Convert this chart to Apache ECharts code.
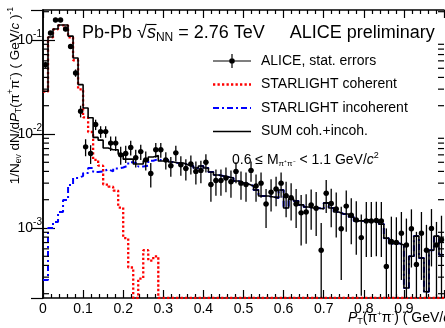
<!DOCTYPE html>
<html><head><meta charset="utf-8">
<script src="https://cdn.jsdelivr.net/npm/echarts@6/dist/echarts.min.js"></script>
<style>html,body{margin:0;padding:0;background:#fff}#c{width:445px;height:328px}</style>
</head><body><div id="c"></div><script>
const binWidth = 0.0125;
const pTLow = [0,0.0125,0.025,0.0375,0.05,0.0625,0.075,0.0875,0.1,0.1125,0.125,0.1375,0.15,0.1625,0.175,0.1875,0.2,0.2125,0.225,0.2375,0.25,0.2625,0.275,0.2875,0.3,0.3125,0.325,0.3375,0.35,0.3625,0.375,0.3875,0.4,0.4125,0.425,0.4375,0.45,0.4625,0.475,0.4875,0.5,0.5125,0.525,0.5375,0.55,0.5625,0.575,0.5875,0.6,0.6125,0.625,0.6375,0.65,0.6625,0.675,0.6875,0.7,0.7125,0.725,0.7375,0.75,0.7625,0.775,0.7875,0.8,0.8125,0.825,0.8375,0.85,0.8625,0.875,0.8875,0.9,0.9125,0.925,0.9375,0.95,0.9625,0.975,0.9875];
const dataValues = [0.0546,0.1187,0.163,0.163,0.131,0.0853,0.0446,0.0175,0.0073,0.0062,
0.0126,0.0106,0.0106,0.0080,0.0080,0.0060,0.0062,0.0072,0.0056,0.0065,
0.0053,0.0038,0.0068,0.0068,0.0053,0.0046,0.0063,0.0047,0.0043,0.0048,
0.0040,0.0041,0.0050,0.0029,0.0032,0.0032,0.0034,0.0031,0.0040,0.0030,
0.0029,0.0041,0.0028,0.0030,0.0018,0.0024,0.0026,0.0030,0.0022,0.0021,
0.0018,0.00145,0.00148,0.00176,0.00162,0.00058,0.00234,0.00182,0.00159,0.00098,
0.00171,0.00137,0.00122,0.00079,0.00119,0.00119,0.0012,0.00119,0.00039,0.00072,
0.0007,0.00088,0.00066,0.00098,0.00041,0.00088,0.00058,0.00099,0.00066,0.00075];
const dataErrors = [0.004,0.006,0.008,0.008,0.007,0.005,0.004,0.0025,0.0015,0.0014,
0.0016,0.0015,0.0015,0.0014,0.0014,0.0013,0.0013,0.0013,0.0012,0.0012,
0.0012,0.0011,0.0012,0.0012,0.0011,0.0011,0.0012,0.0011,0.0011,0.0011,
0.0011,0.0011,0.0011,0.0010,0.0010,0.0010,0.0010,0.0010,0.0010,0.0010,
0.0010,0.0010,0.0009,0.0009,0.0008,0.0009,0.0009,0.0009,0.0009,0.0009,
0.0008,0.0008,0.0008,0.0008,0.0008,0.00055,0.0009,0.0008,0.0008,0.0007,
0.0008,0.0007,0.0007,0.0006,0.0007,0.0007,0.0007,0.0007,0.0006,0.0006,
0.0006,0.0006,0.0006,0.0006,0.0005,0.0006,0.0005,0.0006,0.0005,0.0006];
const coherent = [0.0282,0.1066,0.1298,0.143,0.1425,0.107,0.0609,0.0299,0.015,0.0105,
0.0053,0.0046,0.0029,0.00275,0.0025,0.00165,0.00078,0.00038,0,0.00029,
0.00058,0.00045,0.0005,0,0,0,0,0,0,0,
0,0,0,0,0,0,0,0,0,0,
0,0,0,0,0,0,0,0,0,0,
0,0,0,0,0,0,0,0,0,0,
0,0,0,0,0,0,0,0,0,0,
0,0,0,0,0,0,0,0,0,0];
const incoherent = [0.00028,0.001,0.00116,0.00148,0.00199,0.00287,0.0034,0.00357,0.00385,0.00435,
0.00394,0.004,0.0042,0.004,0.0043,0.0044,0.0046,0.005,0.0048,0.0045,
0.0046,0.0052,0.0054,0.00516,0.00529,0.00503,0.00491,0.00491,0.00468,0.00457,
0.00435,0.00457,0.00435,0.00394,0.00366,0.00358,0.00349,0.0034,0.00316,0.00301,
0.00294,0.0028,0.00254,0.00219,0.00219,0.00214,0.00209,0.00254,0.00163,0.00204,
0.00194,0.00176,0.00167,0.00163,0.00163,0.00159,0.00185,0.00163,0.00148,0.00141,
0.00141,0.00131,0.00119,0.00119,0.00122,0.00119,0.00116,0.0011,0.00078,0.00068,
0.00069,0.00066,0.00023,0.0005,0.00082,0.00048,0.00021,0.00058,0.00082,0.00052];
const sumCohIncoh = [0.0285,0.1076,0.131,0.1445,0.1445,0.11,0.0643,0.0335,0.0189,0.0149,
0.0092,0.0086,0.0071,0.0068,0.0068,0.0061,0.0054,0.0054,0.0048,0.0048,
0.0052,0.0057,0.0059,0.00516,0.00529,0.00503,0.00491,0.00491,0.00468,0.00457,
0.00435,0.00457,0.00435,0.00394,0.00366,0.00358,0.00349,0.0034,0.00316,0.00301,
0.00294,0.0028,0.00254,0.00219,0.00219,0.00214,0.00209,0.00254,0.00163,0.00204,
0.00194,0.00176,0.00167,0.00163,0.00163,0.00159,0.00185,0.00163,0.00148,0.00141,
0.00141,0.00131,0.00119,0.00119,0.00122,0.00119,0.00116,0.0011,0.00078,0.00068,
0.00069,0.00066,0.00023,0.0005,0.00082,0.00048,0.00021,0.00058,0.00082,0.00052];
const xTickLabels = ['0','0.1','0.2','0.3','0.4','0.5','0.6','0.7','0.8','0.9'];
const yMinorTicks = [2e-4,3e-4,4e-4,5e-4,6e-4,7e-4,8e-4,9e-4,2e-3,3e-3,4e-3,5e-3,6e-3,7e-3,8e-3,9e-3,2e-2,3e-2,4e-2,5e-2,6e-2,7e-2,8e-2,9e-2,2e-1];
const legendNames = ['ALICE, stat. errors','STARLIGHT coherent','STARLIGHT incoherent','SUM coh.+incoh.'];

const yMin = 1.8e-4, yMax = 0.2085;
const FF = '"Liberation Sans", Arial, Helvetica, sans-serif';

function histData(vals) {
  const out = vals.map((v, i) => [pTLow[i], v > 0 ? v : yMin]);
  const last = vals[vals.length - 1];
  out.push([pTLow[pTLow.length - 1] + binWidth, last > 0 ? last : yMin]);
  return out;
}
// legend icon paths (dash patterns as filled rectangles)
function dashIcon(pattern, total, h) {
  let d = '', x = 0, k = 0;
  while (x < total - 0.01) {
    const len = Math.min(pattern[k % pattern.length], total - x);
    if (k % 2 === 0) d += 'M' + x.toFixed(2) + ',0H' + (x + len).toFixed(2) + 'V' + h + 'H' + x.toFixed(2) + 'Z ';
    x += pattern[k % pattern.length]; k++;
  }
  return 'path://' + d;
}
const IW = 38;
const iconData = 'path://M0,6.4H38V7.6H0Z M18.4,0H19.6V14H18.4Z M16.2,7A2.8,2.8,0,1,1,21.8,7A2.8,2.8,0,1,1,16.2,7Z';
const iconCoh = dashIcon([2.3, 2.2], IW, 2.3);
const iconInc = dashIcon([6, 3, 2, 3], IW, 2);
const iconSum = 'path://M0,0H38V1.6H0Z';

const chart = echarts.init(document.getElementById('c'), null, {renderer: 'canvas'});
const xAxisCommon = {
  type: 'value', min: 0, max: 1, interval: 0.1,
  axisLine: {show: true, lineStyle: {color: '#000', width: 1.5}},
  axisTick: {show: true, inside: true, length: 8, lineStyle: {color: '#000', width: 1.2}},
  minorTick: {show: true, splitNumber: 5, length: 4, lineStyle: {color: '#000', width: 1.2}},
  splitLine: {show: false}, minorSplitLine: {show: false}
};
const yAxisCommon = {
  type: 'log', logBase: 10, min: yMin, max: yMax,
  axisLine: {show: true, lineStyle: {color: '#000', width: 1.5}},
  axisTick: {show: true, inside: true, length: 12, lineStyle: {color: '#000', width: 1.2}},
  splitLine: {show: false}
};

const option = {
  animation: false,
  backgroundColor: '#fff',
  textStyle: {fontFamily: FF},
  grid: {left: 43, right: 1, top: 10, bottom: 30, containLabel: false, outerBoundsMode: 'none'},
  xAxis: [
    Object.assign({}, xAxisCommon, {position: 'bottom',
      axisLabel: {show: true, margin: 4, fontSize: 14, fontFamily: FF, color: '#000',
        formatter: (v) => { const k = Math.round(v * 10); return (Math.abs(v * 10 - k) < 1e-6 && k < xTickLabels.length) ? xTickLabels[k] : ''; }}}),
    Object.assign({}, xAxisCommon, {position: 'top', axisLabel: {show: false}})
  ],
  yAxis: [
    Object.assign({}, yAxisCommon, {position: 'left',
      axisLabel: {show: true, margin: 1, fontFamily: FF, color: '#000', showMinLabel: false, showMaxLabel: false,
        formatter: (v) => { const l = Math.log10(v); const e = Math.round(l); if (Math.abs(l - e) > 1e-6) return ''; return '{b|10}{s|' + e + '}'; },
        rich: {b: {fontSize: 14, fontFamily: FF, color: '#000'}, s: {fontSize: 10, fontFamily: FF, color: '#000', padding: [0, 0, 11, 0]}}}}),
    Object.assign({}, yAxisCommon, {position: 'right', axisLabel: {show: false}})
  ],
  legend: {
    orient: 'vertical', left: 213, top: 54, padding: 0, itemWidth: IW, itemHeight: 14, itemGap: 9.5,
    selectedMode: false,
    textStyle: {fontSize: 14, fontFamily: FF, color: '#000', padding: [0, 0, 0, 5]},
    data: [{name: legendNames[0], icon: iconData}, {name: legendNames[1], icon: iconCoh},
           {name: legendNames[2], icon: iconInc}, {name: legendNames[3], icon: iconSum}]
  },
  graphic: [
    {type: 'text', x: 82, y: 33, z: 100, style: {
      text: '{n|Pb-Pb √}{i|s}{sub|NN}{n| = 2.76 TeV     ALICE preliminary}',
      fontSize: 18, fontFamily: FF, fill: '#000', align: 'left', verticalAlign: 'middle',
      rich: {n: {fontSize: 18, fontFamily: FF}, i: {fontSize: 18, fontFamily: FF, fontStyle: 'italic'},
             sub: {fontSize: 12, fontFamily: FF, padding: [9, 0, 0, 0]}}}},
    {type: 'line', z: 100, shape: {x1: 146.5, y1: 24.5, x2: 156.5, y2: 24.5}, style: {stroke: '#000', lineWidth: 1.1}},
    {type: 'text', x: 232, y: 160, z: 100, style: {
      text: '{n|0.6 ≤ M}{sub|π⁺π⁻}{n| < 1.1 GeV/}{i|c}{sup|2}',
      fontSize: 14, fontFamily: FF, fill: '#000', align: 'left', verticalAlign: 'middle',
      rich: {n: {fontSize: 14, fontFamily: FF}, i: {fontSize: 14, fontFamily: FF, fontStyle: 'italic'},
             sub: {fontSize: 8, fontFamily: FF, padding: [8, 0, 0, 0]}, sup: {fontSize: 9, fontFamily: FF, padding: [0, 0, 9, 0]}}}},
    {type: 'text', x: 348, y: 318, z: 100, style: {
      text: '{i|P}{sub|T}{n|(π}{sup|+}{n|π}{sup|-}{n|) ( GeV/}{i|c}{n| )}',
      fontSize: 14, fontFamily: FF, fill: '#000', align: 'left', verticalAlign: 'middle',
      rich: {n: {fontSize: 14, fontFamily: FF}, i: {fontSize: 14, fontFamily: FF, fontStyle: 'italic'},
             sub: {fontSize: 9, fontFamily: FF, padding: [8, 0, 0, 0]}, sup: {fontSize: 8, fontFamily: FF, padding: [0, 0, 8, 0]}}}},
    {type: 'text', x: 15, y: 7, rotation: Math.PI / 2, z: 100, style: {
      text: '{n|1/N}{sub|ev}{n| dN/d}{i|P}{sub|T}{n|(π}{sup|+}{n|π}{sup|-}{n|) ( GeV/}{i|c}{n| )}{sup|-1}',
      fontSize: 13.5, fontFamily: FF, fill: '#000', align: 'right', verticalAlign: 'middle',
      rich: {n: {fontSize: 13.5, fontFamily: FF}, i: {fontSize: 13.5, fontFamily: FF, fontStyle: 'italic'},
             sub: {fontSize: 8.5, fontFamily: FF, padding: [7, 0, 0, 0]}, sup: {fontSize: 8.5, fontFamily: FF, padding: [0, 0, 8, 0]}}}}
  ],
  series: [
    {name: legendNames[1], type: 'line', step: 'end', symbol: 'none', z: 3,
     data: histData(coherent), color: '#ff0000',
     lineStyle: {color: '#ff0000', width: 2.3, type: [2.3, 2.2]}},
    {name: legendNames[2], type: 'line', step: 'end', symbol: 'none', z: 4,
     data: histData(incoherent), color: '#0000ff',
     lineStyle: {color: '#0000ff', width: 2, type: [6, 3, 2, 3]}},
    {name: legendNames[3], type: 'line', step: 'end', symbol: 'none', z: 5,
     data: histData(sumCohIncoh), color: '#000',
     lineStyle: {color: '#000', width: 1.6}},
    {name: legendNames[0], type: 'custom', z: 6, color: '#000', itemStyle: {color: '#000'},
     data: dataValues.map((v, i) => [pTLow[i] + binWidth / 2, v, dataErrors[i]]),
     encode: {x: 0, y: 1},
     clip: false,
     renderItem: (params, api) => {
       const x = api.value(0), v = api.value(1), s = api.value(2);
       const lo = Math.max(v - s, yMin), hi = Math.min(v + s, yMax);
       const pc = api.coord([x, v]);
       const plo = api.coord([x, lo]);
       const phi = api.coord([x, hi]);
       const pl = api.coord([x - binWidth / 2, v]);
       const pr = api.coord([x + binWidth / 2, v]);
       return {type: 'group', children: [
         {type: 'line', shape: {x1: pc[0], y1: plo[1], x2: pc[0], y2: phi[1]}, style: {stroke: '#000', lineWidth: 1.3}},
         {type: 'line', shape: {x1: pl[0], y1: pc[1], x2: pr[0], y2: pc[1]}, style: {stroke: '#000', lineWidth: 1.3}},
         {type: 'circle', shape: {cx: pc[0], cy: pc[1], r: 2.7}, style: {fill: '#000'}}
       ]};
     }},
    {name: 'yMinorTicks', type: 'custom', z: 7, silent: true, clip: false,
     data: yMinorTicks.map(v => [0, v]),
     encode: {x: 0, y: 1},
     renderItem: (params, api) => {
       const v = api.value(1);
       const pl = api.coord([0, v]);
       const pr = api.coord([1, v]);
       return {type: 'group', children: [
         {type: 'line', shape: {x1: pl[0], y1: pl[1], x2: pl[0] + 6, y2: pl[1]}, style: {stroke: '#000', lineWidth: 1.2}},
         {type: 'line', shape: {x1: pr[0] - 6, y1: pr[1], x2: pr[0], y2: pr[1]}, style: {stroke: '#000', lineWidth: 1.2}}
       ]};
     }}
  ]
};
chart.setOption(option);
</script></body></html>
